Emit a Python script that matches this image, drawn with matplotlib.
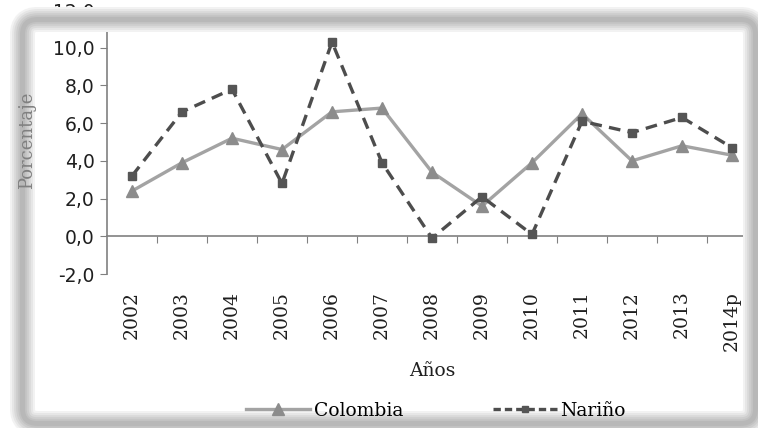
import matplotlib
matplotlib.use("Agg")
import matplotlib.pyplot as plt
from matplotlib.patches import FancyBboxPatch
from matplotlib.lines import Line2D
import numpy as np

years = ["2002", "2003", "2004", "2005", "2006", "2007", "2008",
         "2009", "2010", "2011", "2012", "2013", "2014p"]
colombia = [2.4, 3.9, 5.2, 4.6, 6.6, 6.8, 3.4, 1.6, 3.9, 6.5, 4.0, 4.8, 4.3]
narino = [3.2, 6.6, 7.8, 2.8, 10.3, 3.9, -0.1, 2.1, 0.1, 6.1, 5.5, 6.3, 4.7]
yticks = [-2, 0, 2, 4, 6, 8, 10, 12]

serif = "DejaVu Serif"
fig = plt.figure(figsize=(7.58, 4.28), dpi=100)
ax = fig.add_axes([107 / 758, 154 / 428, 650 / 758, 264 / 428])

x = np.arange(len(years))
ax.plot(x, colombia, color="#a3a3a3", lw=2.4, marker="^", ms=8.5,
        mfc="#8c8c8c", mec="#8c8c8c", zorder=3)
ax.plot(x, narino, color="#4d4d4d", lw=2.4, ls=(0, (3.5, 2.2)), marker="s",
        ms=6, mfc="#555555", mec="#555555", zorder=4)

ax.set_xlim(-0.5, len(years) - 0.5)
ax.set_ylim(-2, 12)
ax.set_yticks(yticks)
ax.set_yticklabels([f"{v:.1f}".replace(".", ",") for v in yticks],
                   fontsize=13.5, color="#1f1f1f")
ax.tick_params(axis="y", direction="out", length=5, color="#808080", pad=4)

# category labels below the plot
ax.set_xticks(x)
ax.set_xticklabels(years, rotation=90, fontsize=13.5, family=serif,
                   color="#1f1f1f", va="top")
ax.tick_params(axis="x", length=0, pad=12)

for side in ("top", "right", "bottom"):
    ax.spines[side].set_visible(False)
ax.spines["left"].set_color("#808080")
ax.spines["left"].set_linewidth(1.2)

# zero line with tick marks between categories
zero_axis = ax.secondary_xaxis(2 / 14)
zero_axis.set_xticks(np.arange(len(years)) + 0.5)
zero_axis.set_xticklabels([])
zero_axis.tick_params(direction="out", length=5, color="#808080")
zero_axis.spines["bottom"].set_color("#808080")
zero_axis.spines["bottom"].set_linewidth(1.2)

ax.set_xlabel("Años", family=serif, fontsize=13.5, color="#1f1f1f",
              labelpad=8)
# y label sits over the panel shadow, so it is a figure text
fig.text(27 / 758, (428 - 140) / 428, "Porcentaje", family=serif,
         fontsize=13, color="#808080", rotation=90, ha="center",
         va="center", zorder=12)

handles = [
    Line2D([], [], color="#a3a3a3", lw=2.4, marker="^", ms=8.5,
           mfc="#8c8c8c", mec="#8c8c8c"),
    Line2D([], [], color="#4d4d4d", lw=2.4, ls=(0, (2.2, 1.2)), marker="s",
           ms=5, mfc="#555555", mec="#555555"),
]
leg = fig.legend(handles, ["Colombia", "Nariño"], loc="center",
                 bbox_to_anchor=(436 / 758, 17 / 428), ncol=2, frameon=False,
                 prop={"family": serif, "size": 13.5}, handlelength=3.4,
                 columnspacing=4.8, handletextpad=0.2)
leg.set_zorder(12)

# framed panel with soft shadow (opaque strokes, light outside, dark centre)
shades = [(18, "#f2f2f2"), (15, "#e6e6e6"), (12, "#d9d9d9"), (9, "#cdcdcd"),
          (6, "#c2c2c2"), (3.5, "#b8b8b8")]
for lw, shade in shades:
    fig.patches.append(FancyBboxPatch(
        (0.225, 0.045), 7.33, 4.04,
        boxstyle="round,pad=0,rounding_size=0.15",
        transform=fig.dpi_scale_trans, facecolor="none",
        edgecolor=shade, lw=lw, zorder=10))

fig.savefig("out.png", dpi=100)
